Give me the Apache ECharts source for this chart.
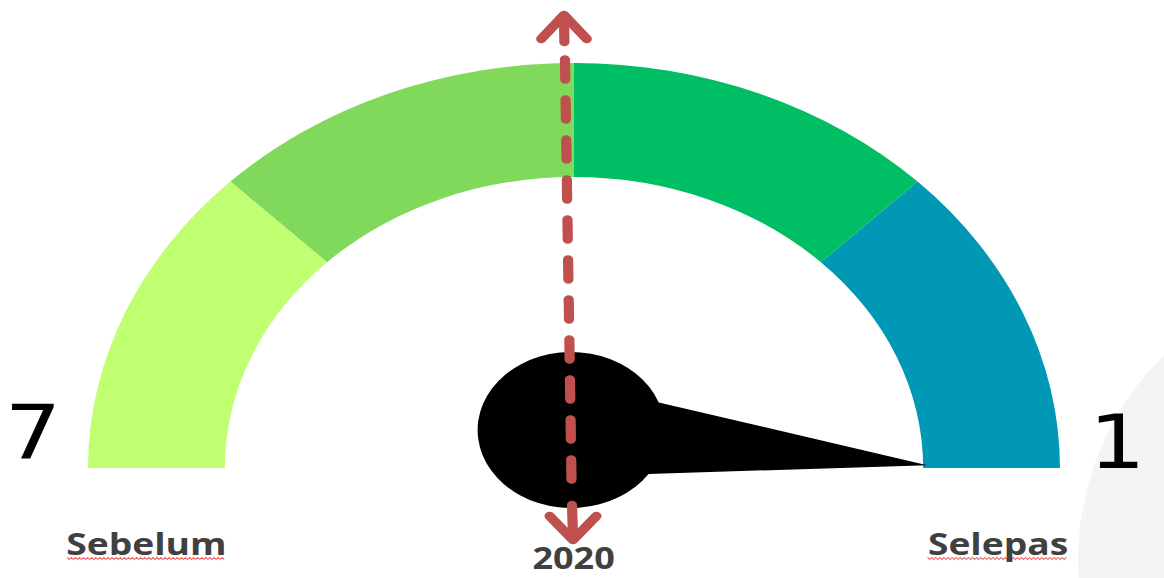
<!DOCTYPE html>
<html><head><meta charset="utf-8">
<script src="https://cdn.jsdelivr.net/npm/echarts@6/dist/echarts.min.js"></script>
<style>
html,body{margin:0;padding:0;background:#fff;overflow:hidden;width:1164px;height:578px;}
#chart{width:970px;height:578px;transform:scaleX(1.2);transform-origin:0 0;}
</style></head><body><div id="chart"></div>
<script>
// ---- data ----
const scaleMin = 7;
const scaleMax = 1;
const needleValue = 1;
const segmentStops = [0.25, 0.5, 0.75, 1];
const endLabels = ['7', '1'];
const periodLabels = ['Sebelum', 'Selepas'];
const yearLabel = '2020';

// ---- style ----
const segColors = ['#C0FF72', '#80D95A', '#00BE63', '#0098B4'];
const red = '#C0504D';
const textGrey = '#404040';

const chart = echarts.init(document.getElementById('chart'), null, {renderer: 'svg', width: 970, height: 578});

function squiggle(x0, x1, y) {
  const pts = [];
  let i = 0;
  for (let x = x0; x <= x1; x += 1.7) { pts.push([x, y + (i % 2 ? 1.1 : -1.1)]); i++; }
  return pts;
}

function txt(text, x, y, font, color) {
  return {
    type: 'text', z: 120,
    style: {text: text, x: x, y: y, font: font, fill: color,
      align: 'center', verticalAlign: 'middle', textAlign: 'center', textVerticalAlign: 'middle'}
  };
}

const option = {
  animation: false,
  backgroundColor: '#fff',
  series: [
    {
      type: 'gauge',
      center: [478.3, 468],
      radius: 405,
      startAngle: 180,
      endAngle: 0,
      min: scaleMin,
      max: scaleMax,
      axisLine: {show: true, lineStyle: {width: 114,
        color: segmentStops.map((s, i) => [s, segColors[i]])}},
      splitLine: {show: false}, axisTick: {show: false}, axisLabel: {show: false},
      pointer: {show: false}, anchor: {show: false}, title: {show: false}, detail: {show: false},
      data: [{value: needleValue}],
      z: 2
    },
    {
      type: 'gauge',
      center: [476, 430],
      radius: 300,
      startAngle: 180,
      endAngle: -6.75,
      min: scaleMin,
      max: scaleMax,
      axisLine: {show: false},
      splitLine: {show: false}, axisTick: {show: false}, axisLabel: {show: false},
      pointer: {
        show: true,
        icon: 'path://M78,0 L114,229.6 A78,78 0 1 1 42,229.6 Z',
        length: 376.8,
        width: 156,
        offsetCenter: [0, 78],
        itemStyle: {color: '#000'}
      },
      anchor: {show: false}, title: {show: false}, detail: {show: false},
      data: [{value: needleValue}],
      z: 5
    }
  ],
  graphic: [
    {type: 'circle', x: 1137.5, y: 560, scaleX: 1 / 1.2, z: -10,
      shape: {cx: 0, cy: 0, r: 287}, style: {fill: '#F4F4F4'}},
    // red dashed arrow
    {type: 'line', z: 110, shape: {x1: 470.8, y1: 59.5, x2: 476.4, y2: 490},
      style: {stroke: red, lineWidth: 8.5, lineDash: [20, 20], lineCap: 'round', fill: null}},
    {type: 'polyline', z: 110, shape: {points: [[451, 39], [470, 15], [489, 39]]},
      style: {stroke: red, lineWidth: 8.5, lineCap: 'round', lineJoin: 'round', fill: null}},
    {type: 'line', z: 110, shape: {x1: 470, y1: 16, x2: 470.3, y2: 42},
      style: {stroke: red, lineWidth: 8.5, lineCap: 'round', fill: null}},
    {type: 'polyline', z: 110, shape: {points: [[458, 516], [477.5, 540], [497, 516]]},
      style: {stroke: red, lineWidth: 8.5, lineCap: 'round', lineJoin: 'round', fill: null}},
    {type: 'line', z: 110, shape: {x1: 476.7, y1: 505, x2: 477.5, y2: 538},
      style: {stroke: red, lineWidth: 8.5, lineCap: 'round', fill: null}},
    // labels
    txt(endLabels[0], 27.5, 432, '74px "DejaVu Sans"', '#000'),
    txt(endLabels[1], 931, 442, '74px "DejaVu Sans"', '#000'),
    txt(periodLabels[0], 122, 543, 'bold 31px "Open Sans"', textGrey),
    txt(periodLabels[1], 831.7, 543, 'bold 31px "Open Sans"', textGrey),
    txt(yearLabel, 478, 558, 'bold 30px "Open Sans"', textGrey),
    {type: 'polyline', z: 115, shape: {points: squiggle(56, 188, 558.5)},
      style: {stroke: '#F06060', lineWidth: 0.9, fill: null}},
    {type: 'polyline', z: 115, shape: {points: squiggle(773, 890, 558.5)},
      style: {stroke: '#F06060', lineWidth: 0.9, fill: null}}
  ]
};
chart.setOption(option);
</script>
</body></html>
